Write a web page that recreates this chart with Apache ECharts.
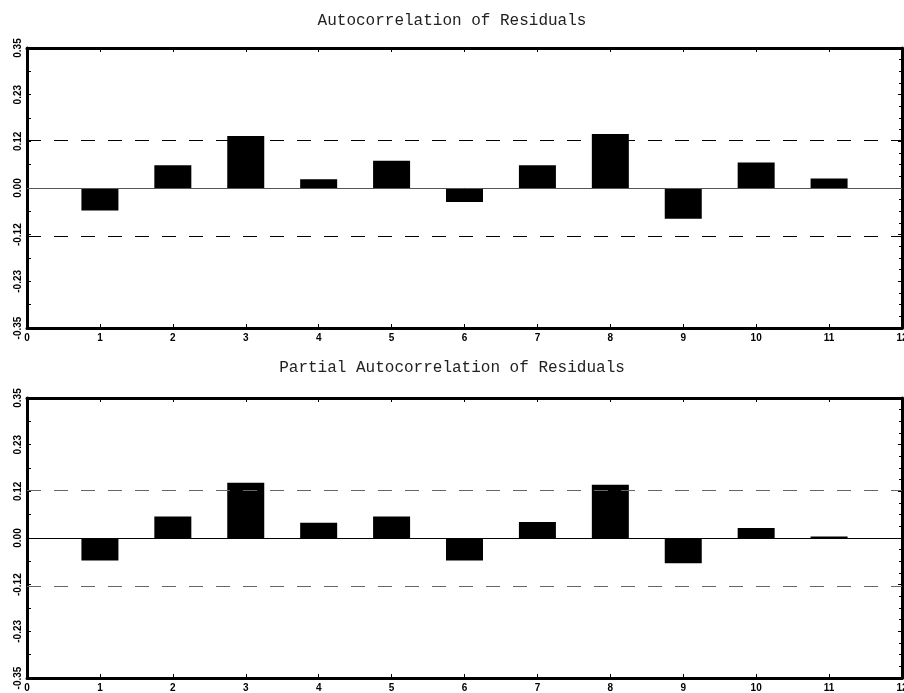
<!DOCTYPE html>
<html>
<head>
<meta charset="utf-8">
<script src="https://cdn.jsdelivr.net/npm/echarts@6/dist/echarts.min.js"></script>
<style>
html,body{margin:0;padding:0;background:#fff;}
#chart{width:904px;height:693px;}
</style>
</head>
<body>
<div id="chart"></div>
<script>
// ---- data ----
var lags = [1, 2, 3, 4, 5, 6, 7, 8, 9, 10, 11];
var acfValues = [-0.056, 0.057, 0.130, 0.022, 0.068, -0.035, 0.057, 0.135, -0.077, 0.064, 0.024];
var pacfValues = [-0.056, 0.054, 0.138, 0.038, 0.054, -0.056, 0.040, 0.133, -0.063, 0.025, 0.004];
var xTickLabels = ['0', '1', '2', '3', '4', '5', '6', '7', '8', '9', '10', '11', '12'];
var yTickLabels = ['-0.35', '-0.23', '-0.12', '0.00', '0.12', '0.23', '0.35'];
var confBound = 0.1167;
var titles = ['Autocorrelation of Residuals', 'Partial Autocorrelation of Residuals'];

var chart = echarts.init(document.getElementById('chart'));

var labelFont = {fontFamily: 'Liberation Sans', fontWeight: 'bold', fontSize: 10, color: '#000'};
var axisLineStyle = {color: '#000', width: 3};

function pairs(vals) {
  return lags.map(function (l, i) { return [l, vals[i]]; });
}

function xAxes(gi) {
  return [{
    gridIndex: gi, type: 'value', min: 0, max: 12, interval: 1, position: 'bottom',
    axisLine: {show: true, onZero: false, lineStyle: axisLineStyle},
    axisTick: {show: true, inside: true, length: 4, lineStyle: {color: '#000', width: 1}},
    axisLabel: Object.assign({margin: 5, hideOverlap: false, formatter: function (v, i) { return xTickLabels[Math.round(v)]; }}, labelFont),
    splitLine: {show: false}
  }, {
    gridIndex: gi, type: 'value', min: 0, max: 12, interval: 1, position: 'top',
    axisLine: {show: true, onZero: false, lineStyle: axisLineStyle},
    axisTick: {show: true, inside: true, length: 4, lineStyle: {color: '#000', width: 1}},
    axisLabel: {show: false},
    splitLine: {show: false}
  }];
}

function yAxes(gi) {
  return [{
    gridIndex: gi, type: 'value', min: -0.35, max: 0.35, interval: 0.35 / 3, position: 'left',
    axisLine: {show: true, onZero: false, lineStyle: axisLineStyle},
    axisTick: {show: true, inside: true, length: 4, lineStyle: {color: '#000', width: 1}},
    minorTick: {show: true, splitNumber: 2, length: 4, lineStyle: {color: '#000', width: 1}},
    axisLabel: Object.assign({rotate: 90, margin: 4, formatter: function (v, i) { return yTickLabels[i]; }}, labelFont),
    splitLine: {show: false}
  }, {
    gridIndex: gi, type: 'value', min: -0.35, max: 0.35, interval: 0.35 / 3, position: 'right',
    axisLine: {show: true, onZero: false, lineStyle: axisLineStyle},
    axisTick: {show: true, inside: true, length: 4, lineStyle: {color: '#000', width: 1}},
    minorTick: {show: true, splitNumber: 4, length: 3, lineStyle: {color: '#000', width: 1}},
    axisLabel: {show: false},
    splitLine: {show: false}
  }];
}

function barSeries(vals, gi, dashColor, zeroColor) {
  return {
    type: 'bar',
    xAxisIndex: gi * 2, yAxisIndex: gi * 2,
    data: pairs(vals),
    barWidth: 37,
    itemStyle: {color: '#000'},
    silent: true,
    markLine: {
      silent: true, symbol: 'none', label: {show: false},
      animation: false,
      data: [
        {yAxis: 0, lineStyle: {type: 'solid', color: zeroColor, width: 1}},
        {yAxis: confBound, lineStyle: {type: [14, 13], color: dashColor, width: 1.2}},
        {yAxis: -confBound, lineStyle: {type: [14, 13], color: dashColor, width: 1.2}}
      ]
    },
    z: 3
  };
}

var option = {
  animation: false,
  backgroundColor: '#fff',
  title: [
    {text: titles[0], left: 'center', top: 8, textStyle: {fontFamily: 'Liberation Mono', fontWeight: 'normal', fontSize: 16, color: '#222'}},
    {text: titles[1], left: 'center', top: 355, textStyle: {fontFamily: 'Liberation Mono', fontWeight: 'normal', fontSize: 16, color: '#222'}}
  ],
  grid: [
    {left: 27, right: 2, top: 48, height: 280, outerBoundsMode: 'none', containLabel: false},
    {left: 27, right: 2, top: 398, height: 280, outerBoundsMode: 'none', containLabel: false}
  ],
  xAxis: xAxes(0).concat(xAxes(1)),
  yAxis: yAxes(0).concat(yAxes(1)),
  series: [
    barSeries(acfValues, 0, '#000', '#555'),
    barSeries(pacfValues, 1, '#666', '#000')
  ]
};

chart.setOption(option);
</script>
</body>
</html>
